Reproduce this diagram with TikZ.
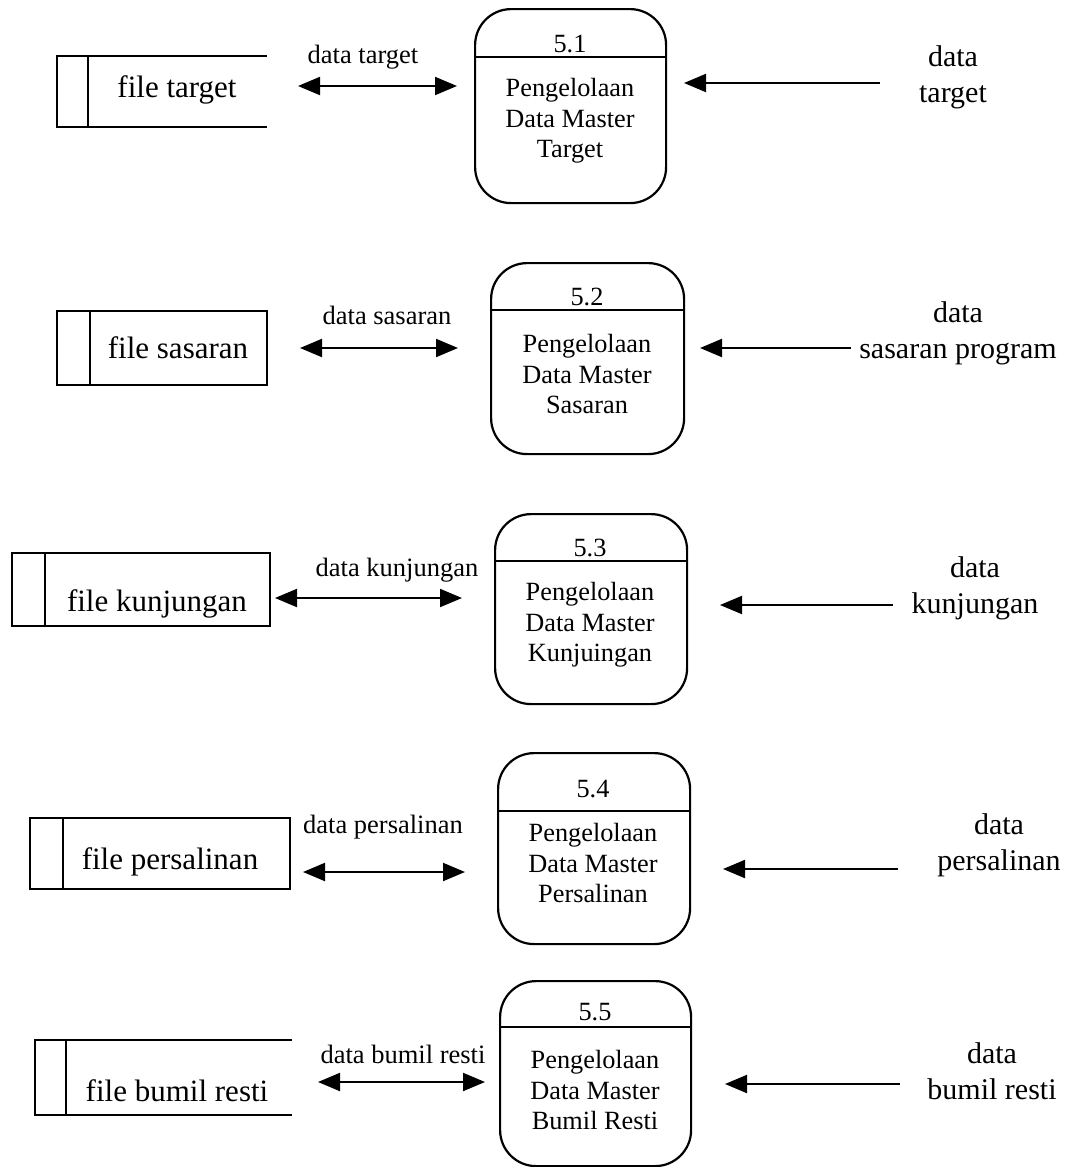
\documentclass[tikz,border=0pt]{standalone}
\usepackage{fontspec}
\setmainfont{Liberation Serif}
\usetikzlibrary{arrows.meta}
\begin{document}
\begin{tikzpicture}[x=1pt,y=-1pt,
  proc/.style={draw,line width=2.2pt,rounded corners=36pt,anchor=north west,inner sep=0pt},
  divider/.style={line width=2.2pt},
  store/.style={line width=2pt},
  storetext/.style={font=\fontsize{31}{34}\selectfont,inner sep=0pt},
  proctext/.style={font=\fontsize{26.3}{30.5}\selectfont,align=center,inner sep=0pt},
  flowlabel/.style={font=\fontsize{26.5}{30}\selectfont,inner sep=0pt},
  extlabel/.style={font=\fontsize{30}{36}\selectfont,align=center,inner sep=0pt},
  flow/.style={line width=2pt,-{Triangle[length=22pt,width=18pt]}},
  biflow/.style={line width=2pt,{Triangle[length=22pt,width=18pt]}-{Triangle[length=22pt,width=18pt]}}]
\useasboundingbox (0,0) rectangle (1069,1167);

% ---------- 5.1 ----------
\node[proc,minimum width=191pt,minimum height=194pt] (p1) at (474,8) {};
\draw[divider] (p1.west |- 0,57) -- (p1.east |- 0,57);
\node[proctext] (n1) at (570,44) {5.1};
\node[proctext] (t1) at (570,121) {Pengelolaan\\Data Master\\Target};
\draw[store] (267,56) -- (57,56) -- (57,127) -- (267,127);
\draw[store] (88,56) -- (88,127);
\node[storetext] (s1) at (177,90) {file target};
\coordinate (a1l) at (298,86);
\coordinate (a1r) at (457,86);
\draw[biflow] (a1l) -- (a1r);
\node[flowlabel] (l1) at (363,57) {data target};
\coordinate (r1s) at (880,83);
\coordinate (r1e) at (684,83);
\draw[flow] (r1s) -- (r1e);
\node[extlabel] (e1) at (953,77) {data\\target};

% ---------- 5.2 ----------
\node[proc,minimum width=193pt,minimum height=191pt] (p2) at (490,262) {};
\draw[divider] (p2.west |- 0,310) -- (p2.east |- 0,310);
\node[proctext] (n2) at (587,297) {5.2};
\node[proctext] (t2) at (587,374) {Pengelolaan\\Data Master\\Sasaran};
\draw[store] (57,311) rectangle (267,385);
\draw[store] (90,311) -- (90,385);
\node[storetext] (s2) at (178,348) {file sasaran};
\coordinate (a2l) at (300,348);
\coordinate (a2r) at (458,348);
\draw[biflow] (a2l) -- (a2r);
\node[flowlabel] (l2) at (387,315) {data sasaran};
\coordinate (r2s) at (851,348);
\coordinate (r2e) at (700,348);
\draw[flow] (r2s) -- (r2e);
\node[extlabel] (e2) at (958,333) {data\\sasaran program};

% ---------- 5.3 ----------
\node[proc,minimum width=192pt,minimum height=190pt] (p3) at (494,513) {};
\draw[divider] (p3.west |- 0,561) -- (p3.east |- 0,561);
\node[proctext] (n3) at (590,548) {5.3};
\node[proctext] (t3) at (590,625) {Pengelolaan\\Data Master\\Kunjuingan};
\draw[store] (12,553) rectangle (270,626);
\draw[store] (45,553) -- (45,626);
\node[storetext] (s3) at (157,604) {file kunjungan};
\coordinate (a3l) at (275,598);
\coordinate (a3r) at (462,598);
\draw[biflow] (a3l) -- (a3r);
\node[flowlabel] (l3) at (397,570) {data kunjungan};
\coordinate (r3s) at (893,605);
\coordinate (r3e) at (720,605);
\draw[flow] (r3s) -- (r3e);
\node[extlabel] (e3) at (975,588) {data\\kunjungan};

% ---------- 5.4 ----------
\node[proc,minimum width=192pt,minimum height=191pt] (p4) at (497,752) {};
\draw[divider] (p4.west |- 0,811) -- (p4.east |- 0,811);
\node[proctext] (n4) at (593,789) {5.4};
\node[proctext] (t4) at (593,863) {Pengelolaan\\Data Master\\Persalinan};
\draw[store] (30,818) rectangle (290,889);
\draw[store] (63,818) -- (63,889);
\node[storetext] (s4) at (170,862) {file persalinan};
\coordinate (a4l) at (303,872);
\coordinate (a4r) at (465,872);
\draw[biflow] (a4l) -- (a4r);
\node[flowlabel] (l4) at (383,827) {data persalinan};
\coordinate (r4s) at (898,869);
\coordinate (r4e) at (723,869);
\draw[flow] (r4s) -- (r4e);
\node[extlabel] (e4) at (999,845) {data\\persalinan};

% ---------- 5.5 ----------
\node[proc,minimum width=191pt,minimum height=185pt] (p5) at (499,980) {};
\draw[divider] (p5.west |- 0,1027) -- (p5.east |- 0,1027);
\node[proctext] (n5) at (595,1012) {5.5};
\node[proctext] (t5) at (595,1090) {Pengelolaan\\Data Master\\Bumil Resti};
\draw[store] (292,1040) -- (35,1040) -- (35,1115) -- (292,1115);
\draw[store] (66,1040) -- (66,1115);
\node[storetext] (s5) at (177,1091) {file bumil resti};
\coordinate (a5l) at (318,1082);
\coordinate (a5r) at (485,1082);
\draw[biflow] (a5l) -- (a5r);
\node[flowlabel] (l5) at (403,1054) {data bumil resti};
\coordinate (r5s) at (900,1084);
\coordinate (r5e) at (725,1084);
\draw[flow] (r5s) -- (r5e);
\node[extlabel] (e5) at (992,1071) {data\\bumil resti};
\end{tikzpicture}
\end{document}
